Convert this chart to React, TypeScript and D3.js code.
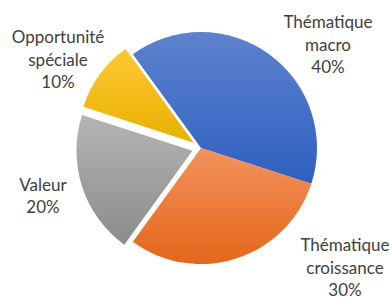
import React, { useEffect, useRef } from "react";
import * as d3 from "d3";

const categories = ["Thématique macro", "Thématique croissance", "Valeur", "Opportunité spéciale"];
const values = [40, 30, 20, 10];
const labelLines = [
  ["Thématique", "macro", "40%"],
  ["Thématique", "croissance", "30%"],
  ["Valeur", "20%"],
  ["Opportunité", "spéciale", "10%"],
];
const exploded = ["Valeur", "Opportunité spéciale"];

const gradients = [
  ["#5d82cf", "#2f5fbf"],
  ["#f3935c", "#e4661a"],
  ["#b4b4b4", "#8c8c8c"],
  ["#ffc833", "#e8b000"],
];

// label centre relative to pie centre (best-fit placement in the original)
const labelOffsets: [number, number][] = [
  [127, -103],
  [144, 120],
  [-158, 48],
  [-143, -88],
];

export default function App() {
  const ref = useRef<SVGSVGElement>(null);

  useEffect(() => {
    const svg = d3.select(ref.current);
    svg.selectAll("*").remove();

    const w = 392, h = 297;
    const cx = 201, cy = 148, r = 116, pull = 9;

    const data = categories.map((c, i) => ({ cat: c, value: values[i], i }));

    const pie = d3.pie<any>()
      .sort(null)
      .value((d) => d.value)
      .startAngle(-Math.PI / 5)
      .endAngle(2 * Math.PI - Math.PI / 5);

    const arc = d3.arc<any>().innerRadius(0).outerRadius(r);

    svg.attr("width", w).attr("height", h);

    const defs = svg.append("defs");
    gradients.forEach((g, i) => {
      const lg = defs.append("linearGradient")
        .attr("id", "grad" + i)
        .attr("x1", 0).attr("y1", 0).attr("x2", 0).attr("y2", 1);
      lg.append("stop").attr("offset", "0%").attr("stop-color", g[0]);
      lg.append("stop").attr("offset", "100%").attr("stop-color", g[1]);
    });

    const g = svg.append("g").attr("transform", `translate(${cx},${cy})`);

    g.selectAll("path")
      .data(pie(data))
      .enter()
      .append("path")
      .attr("d", arc)
      .attr("fill", (d) => `url(#grad${d.data.i})`)
      .attr("transform", (d) => {
        if (!exploded.includes(d.data.cat)) return null;
        const a = (d.startAngle + d.endAngle) / 2;
        return `translate(${Math.sin(a) * pull},${-Math.cos(a) * pull})`;
      });

    const lh = 22.5;
    data.forEach((d, i) => {
      const lines = labelLines[i];
      const [ox, oy] = labelOffsets[i];
      const t = g.append("text")
        .attr("text-anchor", "middle")
        .attr("font-family", "Lato, 'Noto Sans', sans-serif")
        .attr("font-size", 17)
        .attr("fill", "#404040");
      lines.forEach((ln, k) => {
        t.append("tspan")
          .attr("x", ox)
          .attr("y", oy + (k - (lines.length - 1) / 2) * lh)
          .attr("dy", "0.35em")
          .text(ln);
      });
    });
  }, []);

  return (
    <div style={{ position: "absolute", left: 0, top: 0, background: "#fff" }}>
      <svg ref={ref} style={{ display: "block" }}></svg>
    </div>
  );
}
